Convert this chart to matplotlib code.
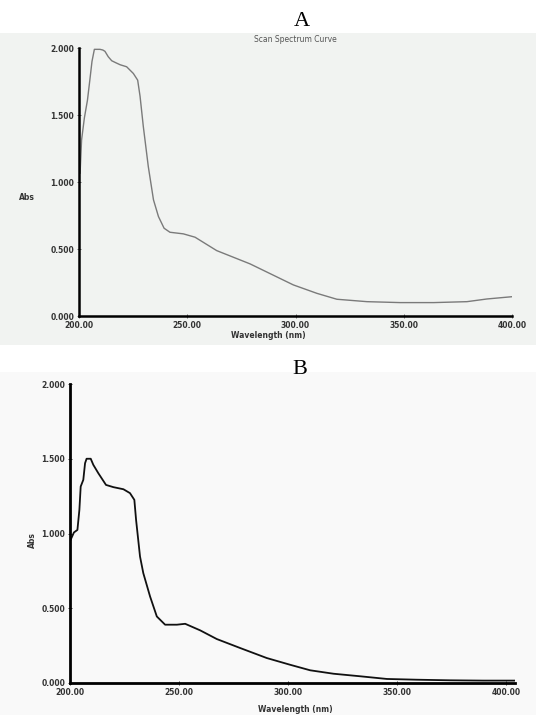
import matplotlib
import matplotlib.pyplot as plt
from matplotlib.patches import Rectangle

matplotlib.use("Agg", force=True)

# Panel A: scanned spectrum (wavelength nm, absorbance)
wl_a = [200.5, 201.2, 202.5, 203.9, 205.0, 206.0, 207.1, 209.7, 211.0, 212.0,
        213.5, 215.1, 217.0, 219.0, 222.0, 225.1, 227.1, 228.2, 229.7, 232.0,
        234.4, 236.7, 239.3, 242.0, 248.2, 253.6, 263.6, 279.0, 299.0, 309.9,
        319.1, 333.0, 348.4, 363.8, 379.2, 388.4, 400.0]
abs_a = [1.066, 1.315, 1.48, 1.61, 1.76, 1.90, 1.99, 1.99, 1.985, 1.975,
         1.935, 1.905, 1.89, 1.875, 1.86, 1.81, 1.76, 1.64, 1.415, 1.116,
         0.867, 0.742, 0.655, 0.625, 0.613, 0.588, 0.488, 0.389, 0.232, 0.169,
         0.125, 0.107, 0.10, 0.10, 0.107, 0.127, 0.144]

# Panel B
wl_b = [200.3, 201.8, 203.4, 204.3, 204.9, 206.1, 206.9, 207.6, 209.5, 210.7,
        213.0, 216.5, 219.9, 224.5, 227.5, 229.5, 230.3, 232.1, 233.6, 236.7,
        239.8, 243.6, 249.0, 252.8, 259.7, 267.3, 278.0, 290.2, 300.9, 310.1,
        320.8, 333.0, 345.3, 359.0, 374.3, 389.6, 404.9]
abs_b = [0.958, 1.007, 1.024, 1.158, 1.314, 1.359, 1.47, 1.50, 1.50, 1.459,
         1.403, 1.325, 1.31, 1.296, 1.27, 1.225, 1.09, 0.846, 0.735, 0.579,
         0.445, 0.39, 0.39, 0.396, 0.352, 0.294, 0.234, 0.167, 0.122, 0.085,
         0.062, 0.045, 0.027, 0.022, 0.018, 0.016, 0.016]

x_ticks = [200, 250, 300, 350, 400]
y_ticks = [0.0, 0.5, 1.0, 1.5, 2.0]

W, H = 536, 715
fig = plt.figure(figsize=(W / 100, H / 100), dpi=100)
fig.patch.set_facecolor("white")

# scanned-paper backgrounds, kept behind the axes
fig.patches.append(Rectangle((0.0, 1 - 345 / H), 1.0, 312 / H, transform=fig.transFigure,
                             facecolor="#f1f3f1", edgecolor="none", zorder=-10))
fig.patches.append(Rectangle((0.0, 0.0), 1.0, 1 - 372 / H, transform=fig.transFigure,
                             facecolor="#f9f9f9", edgecolor="none", zorder=-10))


def style_axis(ax, xlim, tick_color, lw_spine):
    ax.set_facecolor("none")
    ax.set_xlim(*xlim)
    ax.set_ylim(0, 2.0)
    for side in ("top", "right"):
        ax.spines[side].set_visible(False)
    for side in ("left", "bottom"):
        ax.spines[side].set_linewidth(lw_spine)
        ax.spines[side].set_color("black")
    ax.set_xticks(x_ticks)
    ax.set_xticklabels([f"{v:.2f}" for v in x_ticks])
    ax.set_yticks(y_ticks)
    ax.set_yticklabels([f"{v:.3f}" for v in y_ticks])
    ax.tick_params(axis="both", direction="inout", length=3, width=0.6,
                   color=tick_color, pad=2, labelsize=5.5, labelcolor="#333333")
    for lab in ax.get_xticklabels() + ax.get_yticklabels():
        lab.set_fontweight("bold")


# Panel A
ax_a = fig.add_axes([79 / W, 1 - 316 / H, (512 - 79) / W, (316 - 48) / H])
style_axis(ax_a, (200, 400), "#555555", 1.8)
ax_a.plot(wl_a, abs_a, color="#7a7a7a", linewidth=1.0)
fig.text(302 / W, 1 - 22 / H, "A", ha="center", va="center",
         fontsize=16, family="Liberation Serif")
fig.text(295 / W, 1 - 40 / H, "Scan Spectrum Curve", ha="center", va="center",
         fontsize=5.5, color="#555555")
fig.text(27 / W, 1 - 198 / H, "Abs", ha="center", va="center",
         fontsize=5.5, fontweight="bold", color="#333333")
fig.text(268 / W, 1 - 335 / H, "Wavelength (nm)", ha="center", va="center",
         fontsize=5.5, fontweight="bold", color="#333333")

# Panel B
ax_b = fig.add_axes([70 / W, 1 - 683 / H, (515 - 70) / W, (683 - 384) / H])
style_axis(ax_b, (200, 404), "#222222", 2.0)
ax_b.plot(wl_b, abs_b, color="#111111", linewidth=1.3)
fig.text(300 / W, 1 - 370 / H, "B", ha="center", va="center",
         fontsize=16, family="Liberation Serif")
fig.text(32 / W, 1 - 540 / H, "Abs", ha="center", va="center", rotation=90,
         fontsize=5.5, fontweight="bold", color="#333333")
fig.text(295 / W, 1 - 710 / H, "Wavelength (nm)", ha="center", va="center",
         fontsize=5.5, fontweight="bold", color="#333333")

fig.savefig("out.png", dpi=100)
